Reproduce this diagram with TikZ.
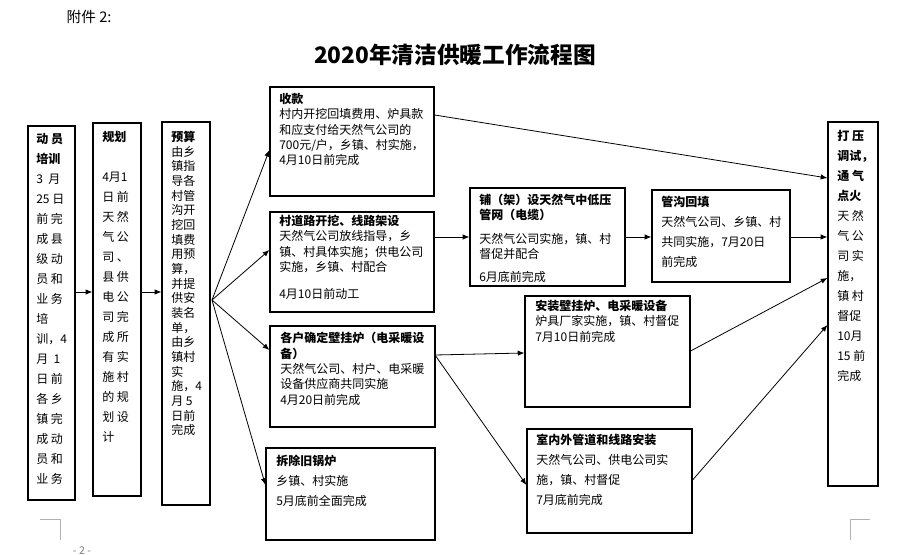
\documentclass[tikz,border=0pt]{standalone}
\usepackage{fontspec}
\setmainfont{Noto Sans CJK SC}
\usetikzlibrary{fit,arrows.meta}
\begin{document}
\begin{tikzpicture}[x=0.75pt,y=-0.75pt,
  box/.style={draw,line width=0.9pt,inner sep=0pt},
  txt/.style={anchor=north west,align=left,inner sep=0pt,font=\fontsize{9}{11.5}\selectfont},
  col/.style={anchor=north west,align=left,inner sep=0pt,font=\fontsize{9}{15}\selectfont},
  arr/.style={-{Latex[length=5pt,width=4pt]},line width=0.6pt}]
\useasboundingbox (0,0) rectangle (910,555);
\node[anchor=west,font=\fontsize{11}{13}\selectfont] (att) at (62,17) {附件 2:};
\node[font=\bfseries\fontsize{17}{20}\selectfont] (title) at (455,55) {2020年清洁供暖工作流程图};
% boxes
\newcommand{\mkbox}[5]{\path (#2,#3) coordinate (#1a) (#4,#5) coordinate (#1b); \node[box,fit=(#1a)(#1b)] (#1) {};}
\mkbox{dy}{28}{126}{75}{500}
\mkbox{gh}{93}{123}{141}{496}
\mkbox{ys}{162}{122}{210}{505}
\mkbox{sk}{270}{87}{434}{196}
\mkbox{cd}{270}{212}{434}{312}
\mkbox{gh2}{270}{326}{435}{427}
\mkbox{cc}{266}{448}{435}{540}
\mkbox{ps}{470}{188}{625}{286}
\mkbox{gg}{652}{190}{790}{282}
\mkbox{az}{525}{296}{690}{407}
\mkbox{sn}{527}{429}{692}{533}
\mkbox{dt}{828}{122}{878}{486}
% texts
\node[col] (tdy) at (36,133) {\textbf{动 员}\\\textbf{培训}\\3\ \ 月\\25 日\\前 完\\成 县\\级 动\\员 和\\业 务\\培\\训，4\\月\ \ 1\\日 前\\各 乡\\镇 完\\成 动\\员 和\\业 务};
\node[col] (tgh) at (102,131) {\textbf{规划}\\[15pt]4月1\\日 前\\天 然\\气 公\\司 、\\县 供\\电 公\\司 完\\成 所\\有 实\\施 村\\的 规\\划 设\\计};
\node[txt,font=\fontsize{9}{11}\selectfont] (tys) at (171,131) {\textbf{预算}\\由乡\\镇指\\导各\\村管\\沟开\\挖回\\填费\\用预\\算，\\并提\\供安\\装名\\单，\\由乡\\镇村\\实\\施，4\\月 5\\日前\\完成};
\node[txt] (tsk) at (279,93) {\textbf{收款}\\村内开挖回填费用、炉具款\\和应支付给天然气公司的\\700元/户，乡镇、村实施，\\4月10日前完成};
\node[txt] (tcd) at (279,215) {\textbf{村道路开挖、线路架设}\\天然气公司放线指导，乡\\镇、村具体实施；供电公司\\实施，乡镇、村配合\\[9pt]4月10日前动工};
\node[txt] (tgh2) at (280,332) {\textbf{各户确定壁挂炉（电采暖设}\\\textbf{备）}\\天然气公司、村户、电采暖\\设备供应商共同实施\\4月20日前完成};
\node[txt,font=\fontsize{9}{15}\selectfont] (tcc) at (276,455) {\textbf{拆除旧锅炉}\\乡镇、村实施\\5月底前全面完成};
\node[txt] (tps) at (479,194) {\textbf{铺（架）设天然气中低压}\\\textbf{管网（电缆）}\\[6pt]天然气公司实施，镇、村\\督促并配合\\[6pt]6月底前完成};
\node[txt,font=\fontsize{9}{15}\selectfont] (tgg) at (661,196) {\textbf{管沟回填}\\天然气公司、乡镇、村\\共同实施，7月20日\\前完成};
\node[txt] (taz) at (535,300) {\textbf{安装壁挂炉、电采暖设备}\\炉具厂家实施，镇、村督促\\7月10日前完成};
\node[txt,font=\fontsize{9}{15}\selectfont] (tsn) at (536,434) {\textbf{室内外管道和线路安装}\\天然气公司、供电公司实\\施，镇、村督促\\7月底前完成};
\node[col] (tdt) at (837,130) {\textbf{打 压}\\\textbf{调试，}\\\textbf{通 气}\\\textbf{点火}\\天 然\\气 公\\司 实\\施，\\镇 村\\督促\\10月\\15 前\\完成};
% arrows
\draw[arr] (dy.east|-0,292) -- (gh.west|-0,292);
\draw[arr] (gh.east|-0,292) -- (ys.west|-0,292);
\coordinate (fan) at (212,300);
\draw[arr] (fan) -- (sk.west|-0,150);
\draw[arr] (fan) -- (cd.west|-0,250);
\draw[arr] (fan) -- (gh2.west|-0,350);
\draw[arr] (fan) -- (cc.west|-0,485);
\draw[arr] (cd.east|-0,237) -- (ps.west|-0,237);
\draw[arr] (ps.east|-0,237) -- (gg.west|-0,237);
\draw[arr] (gg.east|-0,237) -- (dt.west|-0,237);
\draw[arr] (sk.east|-0,115) -- (dt.west|-0,178);
\coordinate (g2) at (435,355);
\draw[arr] (g2) -- (az.west|-0,353);
\draw[arr] (g2) -- (sn.west|-0,485);
\draw[arr] (az.east|-0,351) -- (dt.west|-0,278);
\draw[arr] (sn.east|-0,480) -- (dt.west|-0,325);
% page marks
\draw[gray!60,line width=0.5pt] (40,519) -- (60,519) -- (60,540);
\draw[gray!60,line width=0.5pt] (850,540) -- (850,519) -- (870,519);
\node[font=\fontsize{8}{10}\selectfont,text=gray] (pg) at (82,551) {- 2 -};
\end{tikzpicture}
\end{document}
